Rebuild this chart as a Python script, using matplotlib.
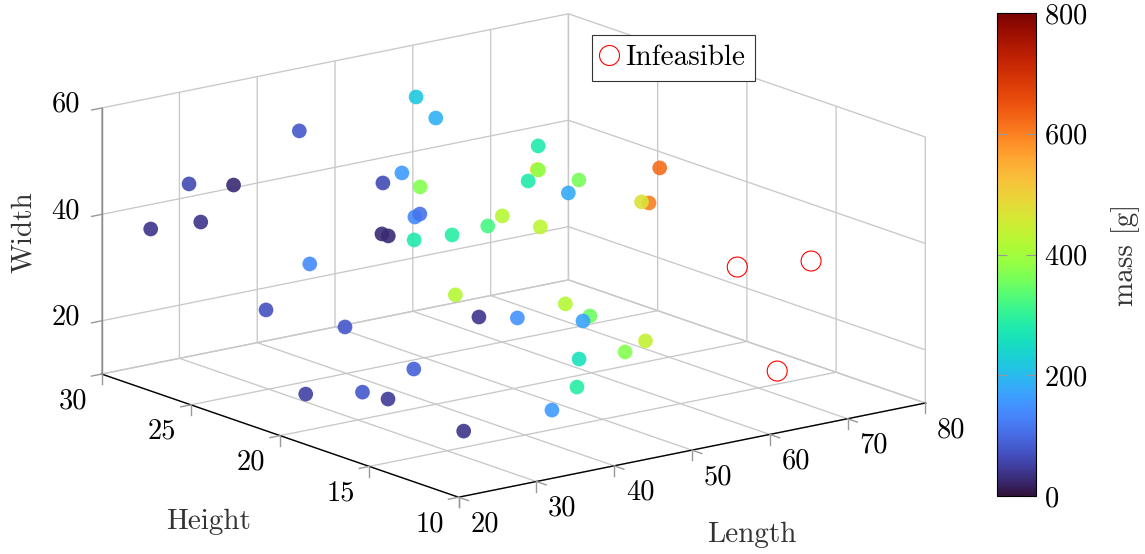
import matplotlib
matplotlib.use("Agg")
import matplotlib.pyplot as plt
from matplotlib.cm import ScalarMappable
from matplotlib.colors import Normalize
from matplotlib.lines import Line2D
from mpl_toolkits.mplot3d import proj3d

plt.rcParams["font.family"] = "cmr10"
plt.rcParams["axes.formatter.use_mathtext"] = True
plt.rcParams["font.size"] = 21

length = [23.05, 28.0, 27.6, 26.25, 36.9, 50.6, 51.0, 43.95, 51.6, 58.55, 47.3, 45.9,
          44.4, 48.2, 58.1, 56.1, 58.6, 58.4, 67.65, 59.0, 65.9, 63.4, 56.2, 66.8,
          60.4, 73.7, 73.0, 77.1, 44.0, 38.4, 38.3, 64.8, 51.5, 56.9, 71.6, 69.5,
          59.0, 69.4, 65.15, 56.0, 53.0, 41.8, 29.7, 44.0, 34.4, 31.1, 29.35]
height = [28.58, 28.59, 25.92, 27.17, 26.29, 25.72, 24.79, 24.68, 26.95, 28.96, 24.35, 23.46,
          24.93, 26.23, 29.1, 26.1, 25.19, 24.29, 26.19, 22.54, 25.6, 24.44, 21.88, 23.66,
          21.46, 22.14, 22.85, 24.22, 28.8, 28.81, 24.34, 29.71, 22.59, 22.79, 26.51, 24.22,
          20.03, 21.06, 20.35, 18.94, 17.75, 14.27, 13.94, 22.97, 21.66, 18.79, 22.64]
width = [38, 45, 48, 40, 55, 58, 55, 45, 42, 35, 38, 40,
         35, 32, 25, 30, 32, 35, 28, 50, 40, 42, 45, 40,
         42, 42, 35, 32, 25, 18, 20, 12, 20, 18, 12, 13,
         20, 12, 12, 15, 12, 15, 15, 12, 12, 15, 12]
mass = [38, 62, 28, 38, 80, 220, 190, 65, 160, 370, 140, 110,
        25, 25, 280, 290, 320, 420, 430, 280, 490, 380, 280, 360,
        180, 620, 470, 600, 140, 70, 80, 420, 40, 150, 420, 350,
        170, 440, 370, 260, 290, 160, 38, 90, 80, 45, 50]

infeasible_length = [71.7, 79.1, 73.0]
infeasible_height = [16.92, 16.01, 15.25]
infeasible_width = [30, 30, 12]

length_ticks = [20, 30, 40, 50, 60, 70, 80]
height_ticks = [10, 15, 20, 25, 30]
width_ticks = [10, 20, 40, 60]
width_labels = [20, 40, 60]
mass_ticks = [0, 200, 400, 600, 800]

W, H = 1145, 554
TICK_GRAY = "#999999"
GRID_GRAY = "#c8c8c8"
LABEL_GRAY = "#333333"

fig = plt.figure(figsize=(W / 100, H / 100), dpi=100)
ax = fig.add_axes([77 / W, -138 / H, 850 / W, 850 / H], projection="3d", proj_type="ortho")
ax.computed_zorder = False
ax.patch.set_alpha(0)
ax.view_init(elev=15.3, azim=-127.4)
ax.set_box_aspect((1, 1, 0.4694))
ax.set_xlim(20, 80, view_margin=0)
ax.set_ylim(10, 30, view_margin=0)
ax.set_zlim(10, 60, view_margin=0)

ax.set_xticks(length_ticks)
ax.set_yticks(height_ticks)
ax.set_zticks(width_ticks)
ax.set_xticklabels([])
ax.set_yticklabels([])
ax.set_zticklabels([])

for axis in (ax.xaxis, ax.yaxis, ax.zaxis):
    axis.set_pane_color((1, 1, 1, 0))
    axis.pane.set_edgecolor((1, 1, 1, 0))
    axis._axinfo["grid"].update(color=GRID_GRAY, linewidth=0.95)
    axis._axinfo["tick"].update(inward_factor=0, outward_factor=0)
    axis.line.set_linewidth(1.0)
ax.zaxis.line.set_color("#888888")


def tick_label(x, y, z, text, dx, dy):
    # the native 3d tick labels can only move away from the box centre
    px, py, _ = proj3d.proj_transform(x, y, z, ax.get_proj())
    ax.annotate(text, (px, py), xytext=(dx, dy), textcoords="offset pixels",
                ha="center", va="baseline", fontsize=20.5)


# pgfplots style tick stubs, they stick out of the box on two sides
for v in length_ticks:
    ax.plot([v, v], [10, 10], [10, 8.1], color=TICK_GRAY, lw=1, zorder=2)
    ax.plot([v, v], [10, 9.45], [10, 10], color=TICK_GRAY, lw=1, zorder=2)
    tick_label(v, 10, 10, str(v), 26, -34)
for v in height_ticks:
    ax.plot([20, 20], [v, v], [10, 8.1], color=TICK_GRAY, lw=1, zorder=2)
    ax.plot([20, 18.7], [v, v], [10, 10], color=TICK_GRAY, lw=1, zorder=2)
    tick_label(20, v, 10, str(v), -29, -34)
for v in width_labels:
    ax.plot([20, 18.7], [30, 30], [v, v], color=TICK_GRAY, lw=1, zorder=2)
    tick_label(20, 30, v, str(v), -36, -4)

ax.scatter(length, height, width, c=mass, cmap="turbo", vmin=0, vmax=800, s=112,
           linewidths=0, alpha=0.9, depthshade=False, zorder=5)
ax.scatter(infeasible_length, infeasible_height, infeasible_width, s=207, facecolors="none",
           edgecolors="red", linewidths=0.8, depthshade=False, zorder=6)

handle = Line2D([], [], ls="none", marker="o", ms=14.4, mfc="none", mec="red", mew=0.8)
leg = ax.legend([handle], ["Infeasible"], loc="upper left", fontsize=21, fancybox=False,
                framealpha=1, edgecolor=LABEL_GRAY, handlelength=0.5, handletextpad=0.3,
                borderpad=0.34, borderaxespad=0,
                bbox_to_anchor=(592 / W, 1 - 35 / H), bbox_transform=fig.transFigure)
leg.get_frame().set_linewidth(0.8)
leg.set_zorder(10)

fig.text(752 / W, 1 - 535 / H, "Length", ha="center", va="center", color=LABEL_GRAY)
fig.text(209 / W, 1 - 522 / H, "Height", ha="center", va="center", color=LABEL_GRAY)
fig.text(24 / W, 1 - 232 / H, "Width", ha="center", va="center", rotation=90, color=LABEL_GRAY)

cax = fig.add_axes([997 / W, 1 - 496 / H, 39 / W, 483 / H])
cbar = fig.colorbar(ScalarMappable(Normalize(0, 800), "turbo"), cax=cax, ticks=mass_ticks)
cbar.outline.set_linewidth(0.8)
cax.tick_params(direction="in", left=True, right=True, length=7.5, width=0.8, color=TICK_GRAY,
                labelsize=20.5, pad=6)
for lab in cax.get_yticklabels():
    lab.set_va("center_baseline")
fig.text(1126 / W, 1 - 255 / H, "mass [g]", ha="center", va="center", rotation=90, color=LABEL_GRAY)

fig.savefig("out.png", dpi=100)
